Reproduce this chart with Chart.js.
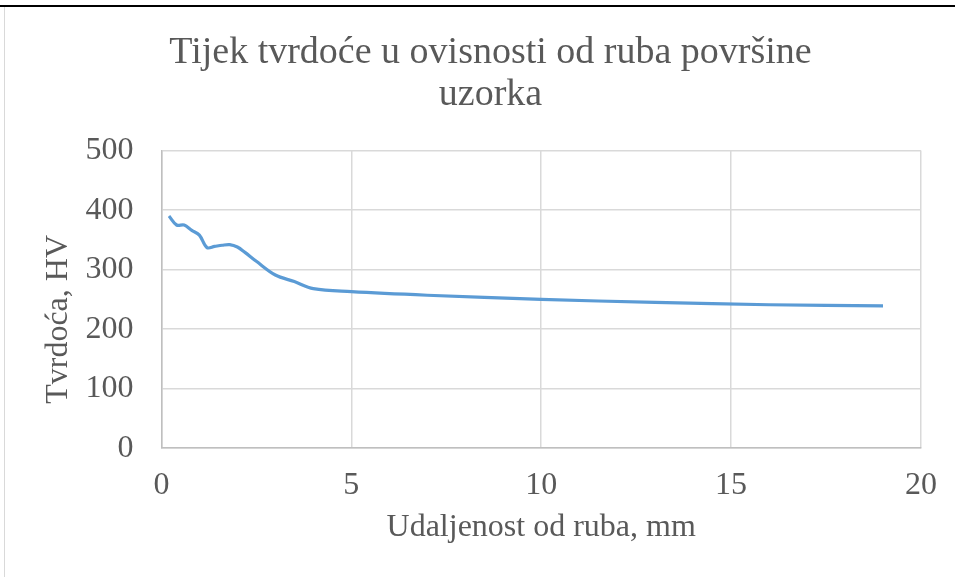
<!DOCTYPE html>
<html>
<head>
<meta charset="utf-8">
<script src="https://cdn.jsdelivr.net/npm/chart.js@4"></script>
<style>
  html, body { margin: 0; padding: 0; background: #fff; }
  #wrap { position: relative; width: 955px; height: 577px; }
  #topline { position: absolute; left: 0; top: 5px; width: 955px; height: 2px; background: #000; }
  #leftline { position: absolute; left: 4px; top: 7px; width: 1px; height: 570px; background: #d9d9d9; }
  canvas { position: absolute; left: 0; top: 0; }
</style>
</head>
<body>
<div id="wrap">
  <canvas id="graphHardness" width="955" height="577"></canvas>
  <div id="topline"></div>
  <div id="leftline"></div>
</div>
<script>
// distance from edge (mm) and hardness (HV)
const distances = [0.2, 0.4, 0.6, 0.8, 1.0, 1.2, 1.4, 1.6, 1.8, 2.0, 2.2, 2.5, 3.0, 3.5, 4.0, 5, 7, 10, 13, 16, 19];
const hardness = [390, 375, 375, 366, 358, 337, 339, 341, 342, 338, 329, 314, 291, 280, 268, 263, 257, 250, 245, 241, 239];

const titleText = ["Tijek tvrdoće u ovisnosti od ruba površine", "uzorka"];
const xTitle = "Udaljenost od ruba, mm";
// trailing spaces push the rotated label a bit down, like in the original
const yTitle = "Tvrdoća, HV     ";

const points = distances.map(function (d, i) { return { x: d, y: hardness[i] }; });

const serif = "'Liberation Serif', 'Times New Roman', serif";
const grey = "#595959";

new Chart("graphHardness", {
  type: 'scatter',
  data: {
    datasets: [{
      data: points,
      showLine: true,
      borderColor: 'rgb(91,155,213)',
      borderWidth: 3.2,
      pointRadius: 0,
      tension: 0.35
    }]
  },
  options: {
    responsive: false,
    animation: false,
    layout: {
      padding: { left: 39, right: 13, top: 32, bottom: 30 }
    },
    plugins: {
      legend: { display: false },
      tooltip: { enabled: false },
      title: {
        display: true,
        text: titleText,
        color: grey,
        font: { family: serif, size: 38, weight: 'normal', lineHeight: 1.1 },
        padding: { top: 0, bottom: 35 }
      }
    },
    scales: {
      x: {
        type: 'linear',
        min: 0,
        max: 20,
        ticks: {
          stepSize: 5,
          color: grey,
          font: { family: serif, size: 32 },
          padding: 18
        },
        grid: { color: '#d9d9d9', lineWidth: 1.5, drawTicks: false },
        border: { color: '#bfbfbf', width: 1.5 },
        title: {
          display: true,
          text: xTitle,
          color: grey,
          font: { family: serif, size: 32 },
          padding: { top: -14, bottom: 0 }
        }
      },
      y: {
        min: 0,
        max: 500,
        ticks: {
          stepSize: 100,
          color: grey,
          font: { family: serif, size: 32 },
          padding: 28
        },
        grid: { color: '#d9d9d9', lineWidth: 1.5, drawTicks: false },
        border: { color: '#bfbfbf', width: 1.5 },
        title: {
          display: true,
          text: yTitle,
          color: grey,
          font: { family: serif, size: 32 },
          padding: { top: 0, bottom: -20 }
        }
      }
    }
  }
});
</script>
</body>
</html>
